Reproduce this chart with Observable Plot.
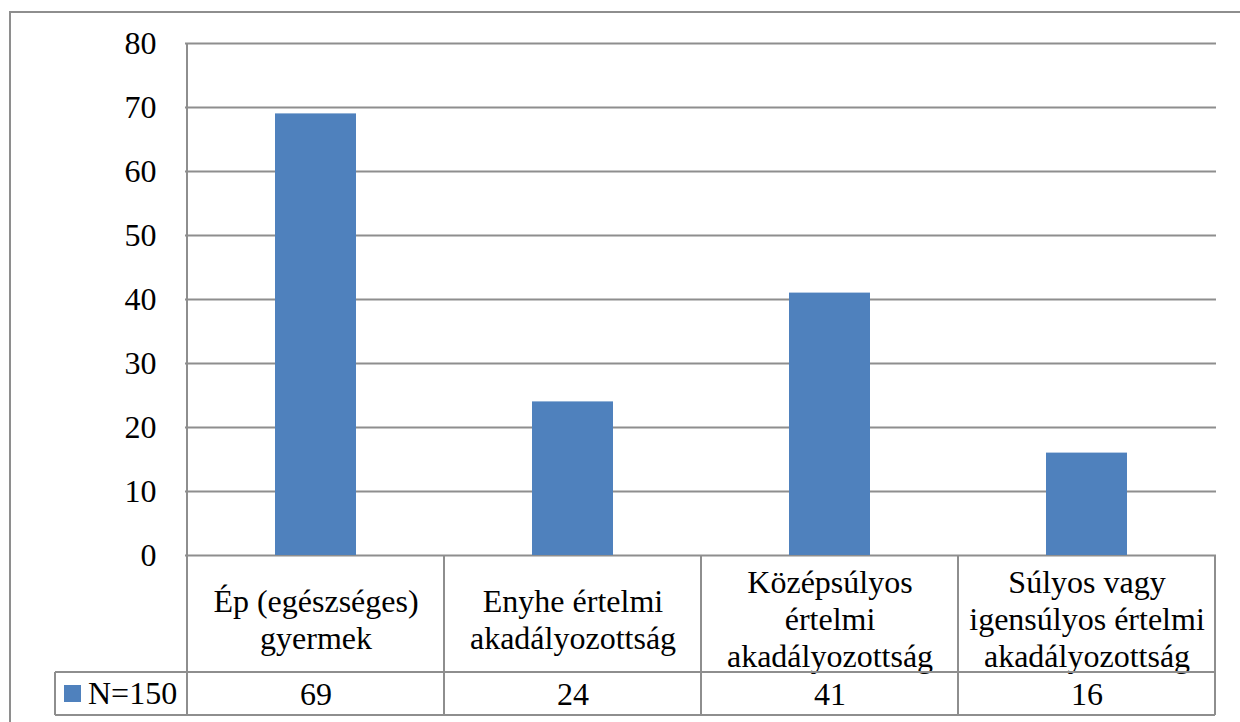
<!DOCTYPE html>
<html><head><meta charset="utf-8">
<script src="https://cdn.jsdelivr.net/npm/d3@7"></script>
<script src="https://cdn.jsdelivr.net/npm/@observablehq/plot@0.6"></script>
</head><body style="margin:0;padding:0;background:#fff;overflow:hidden;font-family:'Liberation Serif',serif"><div id="chart" style="position:relative;width:1240px;height:722px;overflow:hidden"></div>
<script>
const categories = ["Ép (egészséges)\ngyermek", "Enyhe értelmi\nakadályozottság", "Középsúlyos\nértelmi\nakadályozottság", "Súlyos vagy\nigensúlyos értelmi\nakadályozottság"];
const values = [69, 24, 41, 16];
const seriesName = "N=150";
const yTicks = [0, 10, 20, 30, 40, 50, 60, 70, 80];
const barColor = "#4F81BD";

const data = categories.map((c, i) => ({category: c, value: values[i]}));
const FONT = "Times New Roman, Liberation Serif, Tinos, serif";
const LINE = "#8e8e8e";

const chart = Plot.plot({
  width: 1240,
  height: 722,
  marginLeft: 185,
  marginRight: 24,
  marginTop: 43,
  marginBottom: 167,
  style: {fontFamily: "'Times New Roman', 'Liberation Serif', Tinos, serif", fontSize: "32px"},
  x: {domain: categories, padding: 0, axis: null},
  y: {domain: [0, 80], ticks: yTicks, label: null, tickSize: 0, tickPadding: 29},
  marks: [
    Plot.gridY(yTicks, {stroke: LINE, strokeOpacity: 1, strokeWidth: 2}),
    Plot.barY(data, {x: "category", y: "value", fill: barColor, insetLeft: 88, insetRight: 88}),
    Plot.text(data, {x: "category", text: "category", frameAnchor: "bottom", dy: 63, lineAnchor: "middle", lineHeight: 1.16, fill: "#000"}),
    Plot.text(data, {x: "category", text: d => String(d.value), frameAnchor: "bottom", dy: 139, lineAnchor: "middle", fill: "#000"})
  ]
});
chart.setAttribute("font-family", FONT);
document.getElementById("chart").appendChild(chart);

// data-table lines drawn from the plot's own scales
const xs = chart.scale("x");
const ys = chart.scale("y");
const svg = d3.select(chart);
const bottomY = ys.apply(0);
const left = xs.apply(categories[0]);
const right = xs.apply(categories[categories.length - 1]) + xs.bandwidth;
const row1 = bottomY + 117, row2 = bottomY + 160;
const legendLeft = 55;
// outer chart-area border
svg.append("rect").attr("x", 10).attr("y", 12).attr("width", 1260).attr("height", 740)
  .attr("fill", "none").attr("stroke", LINE).attr("stroke-width", 2);
const g = svg.append("g").attr("stroke", LINE).attr("stroke-width", 2).attr("fill", "none");
g.append("line").attr("x1", left).attr("x2", left).attr("y1", ys.apply(80)).attr("y2", row2);
categories.forEach((c) => {
  const x = xs.apply(c) + xs.bandwidth;
  g.append("line").attr("x1", x).attr("x2", x).attr("y1", bottomY).attr("y2", row2);
});
g.append("line").attr("x1", legendLeft).attr("x2", right).attr("y1", row1).attr("y2", row1);
g.append("line").attr("x1", legendLeft).attr("x2", right).attr("y1", row2).attr("y2", row2);
g.append("line").attr("x1", legendLeft).attr("x2", legendLeft).attr("y1", row1).attr("y2", row2);
const midRow = (row1 + row2) / 2;
svg.append("rect").attr("x", 64).attr("y", midRow - 8.5).attr("width", 17).attr("height", 17).attr("fill", barColor);
svg.append("text").attr("x", 88).attr("y", midRow).attr("dy", "0.33em").attr("text-anchor", "start")
  .attr("font-size", 32).attr("fill", "#000").text(seriesName);
// serif face on every text node
chart.querySelectorAll("text, tspan").forEach(el => {
  el.setAttribute("font-family", FONT);
});
</script></body></html>
